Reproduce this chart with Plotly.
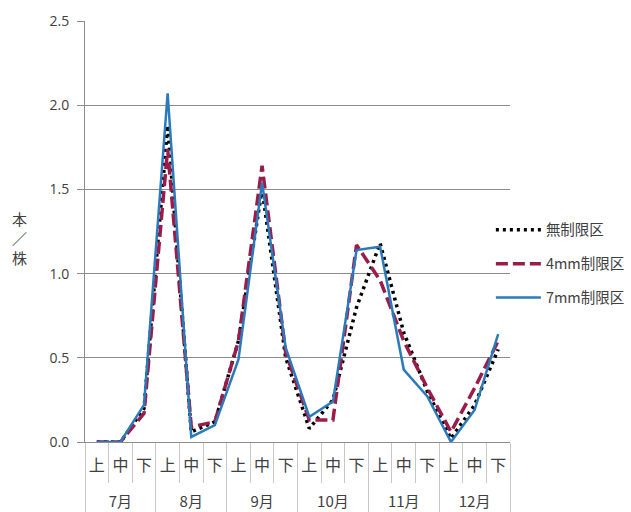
import plotly.graph_objects as go

months = ["7月", "8月", "9月", "10月", "11月", "12月"]
xun = ["上", "中", "下"]
series_names = ["無制限区", "4mm制限区", "7mm制限区"]

unlimited = [0.0, 0.0, 0.2, 1.88, 0.06, 0.12, 0.6, 1.5, 0.5, 0.08, 0.25, 0.8, 1.18, 0.65, 0.3, 0.02, 0.22, 0.55]
mm4 = [0.0, 0.0, 0.17, 1.74, 0.09, 0.12, 0.6, 1.64, 0.53, 0.13, 0.13, 1.17, 0.96, 0.6, 0.32, 0.06, 0.32, 0.6]
mm7 = [0.0, 0.0, 0.22, 2.07, 0.03, 0.1, 0.49, 1.54, 0.56, 0.15, 0.24, 1.14, 1.16, 0.43, 0.27, 0.0, 0.19, 0.64]

x_outer = [m for m in months for _ in xun]
x_inner = [x for _ in months for x in xun]
n = len(x_inner)
k = len(xun)

styles = [
    dict(color="#000000", dash="3px,4px", width=3.5),
    dict(color="#9B1B4A", dash="12px,5px", width=3.5),
    dict(color="#2B7BBA", dash="solid", width=2.5),
]

fig = go.Figure()
for name, vals, st, g in zip(series_names, [unlimited, mm4, mm7], styles, ["a", "b", "c"]):
    fig.add_trace(go.Scatter(
        x=[x_outer, x_inner], y=vals, mode="lines", name=name,
        line=st, legendgroup=g,
    ))

# empty helper traces so that the decoration axes get drawn
for ax in ["x2", "x3", "x4", "x5"]:
    fig.add_trace(go.Scatter(x=[None], y=[None], xaxis=ax, yaxis="y", mode="lines",
                             showlegend=False, hoverinfo="skip"))

font_jp = "Noto Sans CJK JP"
rng = [-0.5, n - 0.5]
common = dict(overlaying="x", anchor="y", side="bottom", type="linear", range=rng,
              showgrid=False, zeroline=False, showline=False, fixedrange=True)

fig.update_layout(
    width=631, height=512,
    margin=dict(l=85, r=121, t=21, b=70, autoexpand=False),
    plot_bgcolor="white", paper_bgcolor="white",
    font=dict(family=font_jp, color="#404040", size=12),
    legend=dict(x=0.955, y=0.423, xanchor="left", yanchor="middle",
                font=dict(size=14.5, color="#404040", family=font_jp),
                itemwidth=45, tracegroupgap=12, bgcolor="rgba(0,0,0,0)"),
    annotations=[dict(text="本<br>／<br>株", xref="paper", yref="paper", x=-0.153, y=0.485,
                      xanchor="center", yanchor="middle", showarrow=False,
                      font=dict(size=15, color="#404040"))],
    # inner labels (上/中/下)
    xaxis2=dict(**common, tickmode="array", tickvals=list(range(n)), ticktext=x_inner,
                ticks="", ticklabelstandoff=12, automargin=False,
                tickfont=dict(size=16, color="#404040", family=font_jp)),
    # inner boundaries
    xaxis3=dict(**common, tickmode="array", tickvals=[i + 0.5 for i in range(n - 1)],
                ticks="outside", ticklen=40, tickcolor="#C8C8C8", showticklabels=False),
    # month dividers
    xaxis4=dict(**common, tickmode="array", tickvals=[i * k - 0.5 for i in range(len(months) + 1)],
                ticks="outside", ticklen=75, tickcolor="#C8C8C8", showticklabels=False),
    # month labels
    xaxis5=dict(**common, tickmode="array", tickvals=[i * k + (k - 1) / 2 for i in range(len(months))],
                ticktext=months, ticks="", ticklabelstandoff=49, automargin=False,
                tickfont=dict(size=15, color="#404040", family=font_jp)),
)
fig.update_yaxes(range=[0, 2.5], dtick=0.5, tickformat=".1f",
                 showgrid=True, gridcolor="#8C8C8C", gridwidth=1,
                 showline=True, linecolor="#8C8C8C", ticks="outside", ticklen=7,
                 tickcolor="#8C8C8C", zeroline=False, automargin=False, ticklabelstandoff=5,
                 tickfont=dict(family="Open Sans", size=14, color="#404040"))
fig.update_layout(xaxis=dict(type="multicategory", range=rng, showline=True, linecolor="#8C8C8C",
                             ticks="", showticklabels=False, showdividers=False,
                             showgrid=False, automargin=False))

fig.write_html("out.html", post_script="document.body.style.margin='0';",
               config={"displayModeBar": False})
